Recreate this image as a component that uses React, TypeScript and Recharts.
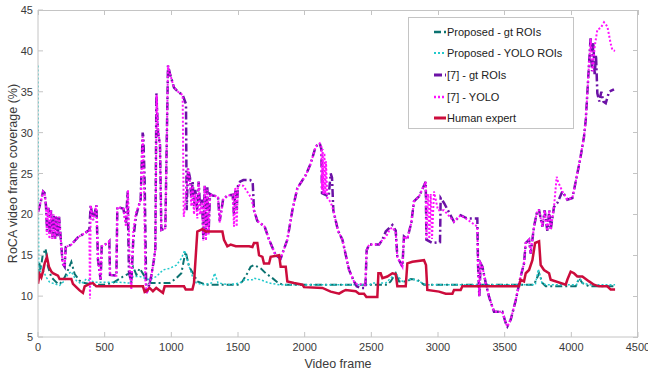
import React from 'react';
import { LineChart, Line, XAxis, YAxis } from 'recharts';

type Pt = [number, number];

// frame, coverage (%)
const proposedGt: Pt[] = [
  [0, 12.5], [8, 14.2], [20, 13.2], [35, 15.0], [57, 15.8], [75, 13.6], [100, 12.3], [125, 11.9],
  [150, 11.5], [165, 11.5], [200, 12.3], [225, 13.2], [250, 14.2], [275, 12.7], [312, 11.9], [350, 11.6],
  [420, 11.4], [490, 11.4], [560, 11.6], [638, 12.4], [688, 12.8], [713, 13.6], [738, 12.6], [763, 13.4],
  [800, 12.4], [830, 11.6], [988, 11.6], [1038, 12.2], [1075, 12.8], [1095, 14.5], [1108, 15.4], [1133, 13.6],
  [1170, 12.6], [1195, 11.8], [1258, 11.4], [1508, 11.4], [1533, 11.8], [1570, 12.8], [1595, 13.6], [1620, 13.8],
  [1670, 13.4], [1708, 12.8], [1758, 12.2], [1795, 11.7], [1833, 11.4], [2620, 11.4], [2645, 11.8], [2683, 12.8],
  [2708, 11.8], [2770, 11.8], [2795, 12.1], [2845, 12.0], [2895, 11.4], [3720, 11.4], [3758, 12.8], [3783, 11.6],
  [3808, 11.2], [4033, 11.2], [4058, 12.2], [4083, 11.6], [4133, 11.2], [4328, 11.2],
];

const proposedYolo: Pt[] = [
  [0, 38.2], [3, 20], [6, 13.5], [14, 12.6], [25, 13.5], [37, 13.2], [62, 12.3], [87, 11.7], [125, 11.5],
  [162, 11.3], [200, 11.9], [225, 12.7], [250, 13.0], [287, 11.9], [325, 11.5], [362, 12.1], [387, 11.9],
  [430, 11.7], [600, 11.7], [688, 11.6], [713, 12.4], [763, 12.4], [838, 12.0], [888, 12.4], [938, 13.2],
  [988, 13.4], [1038, 13.8], [1075, 14.6], [1100, 15.6], [1138, 13.4], [1163, 12.2], [1188, 11.6], [1238, 11.4],
  [1300, 11.6], [1325, 12.8], [1350, 11.6], [1438, 11.4], [1513, 11.6], [1550, 12.0], [1608, 12.0], [1620, 12.2],
  [1670, 12.0], [1733, 11.6], [1808, 11.4], [2483, 11.4], [2520, 11.6], [2608, 11.6], [2683, 12.8], [2733, 11.8],
  [2808, 12.1], [2858, 11.8], [2908, 11.4], [3730, 11.4], [3752, 13.3], [3780, 11.6], [3808, 11.4], [4040, 11.4],
  [4058, 12.4], [4083, 11.6], [4133, 11.4], [4328, 11.4],
];

const refGt: Pt[] = [
  [0, 20.3], [20, 21.5], [38, 22.8], [50, 22.6], [60, 21], [68, 18], [78, 20.8], [88, 17.5], [98, 20.5],
  [108, 17.2], [118, 20], [128, 17], [138, 19.8], [148, 17.3], [158, 19.7], [170, 17.2], [185, 14], [200, 13.6],
  [208, 16.0], [250, 16.3], [300, 17.2], [360, 17.8], [385, 18.1], [395, 21.1], [413, 19.3], [438, 21.1],
  [450, 14.4], [470, 12.0], [478, 16.1], [525, 16.5], [535, 16.7], [540, 12.6], [588, 12.5], [595, 20.9],
  [640, 20.7], [660, 19.0], [672, 22.8], [682, 13], [700, 11.6], [715, 17], [735, 19.8], [755, 21], [770, 21.8],
  [785, 30.0], [790, 29.5], [800, 24], [812, 10.4], [825, 10.8], [850, 12.5], [870, 14.5], [880, 15.8],
  [888, 34.8], [900, 30], [915, 28.5], [925, 18.1], [955, 18.3], [975, 38.2], [990, 37.2], [1020, 35.5],
  [1050, 35], [1085, 34.6], [1110, 33.5], [1115, 20.5], [1125, 25.6], [1140, 24.5], [1150, 22], [1160, 24],
  [1170, 21], [1180, 23], [1195, 20.5], [1205, 24], [1215, 21], [1230, 21.8], [1240, 17], [1250, 23.5],
  [1260, 17.5], [1270, 23.3], [1280, 18], [1290, 22.5], [1310, 22.3], [1350, 22.2], [1363, 19.2], [1388, 21.8],
  [1420, 22.3], [1460, 22.4], [1470, 20], [1480, 23], [1490, 20.5], [1500, 23.5], [1515, 24], [1540, 24.2],
  [1590, 24.2], [1610, 24], [1620, 20.5], [1645, 19.2], [1700, 18.5], [1733, 16.9], [1783, 15.0], [1820, 14.6],
  [1870, 16.9], [1908, 20.5], [1945, 23.2], [2008, 24.8], [2045, 26.2], [2083, 28.3], [2113, 28.7], [2125, 28],
  [2130, 22.6], [2180, 22.2], [2195, 25], [2205, 24.5], [2215, 20.5], [2250, 18], [2283, 16.9], [2333, 13.2],
  [2370, 11.8], [2390, 11.2], [2420, 11.0], [2455, 11.0], [2465, 15.6], [2483, 16.3], [2558, 16.3], [2583, 16.9],
  [2608, 17.9], [2658, 18.7], [2683, 18], [2695, 14.8], [2733, 13.6], [2745, 17.3], [2770, 17.0], [2800, 19],
  [2820, 21.6], [2858, 22.2], [2908, 24.0], [2913, 16.9], [2958, 16.5], [3015, 16.6], [3020, 22.0], [3045, 21.4],
  [3120, 19.1], [3170, 19.9], [3205, 19.6], [3235, 19.5], [3295, 19.5], [3300, 14], [3310, 10], [3320, 14],
  [3333, 13.6], [3358, 11.6], [3383, 9.9], [3420, 8.1], [3483, 8.1], [3508, 6.7], [3520, 6.3], [3545, 7.1],
  [3583, 9.5], [3620, 12.4], [3645, 14.0], [3658, 16.5], [3683, 16.9], [3695, 15.2], [3720, 18.5], [3745, 20.5],
  [3758, 20.5], [3783, 18.5], [3800, 20.5], [3820, 18], [3835, 20.5], [3845, 18.1], [3870, 20.9], [3895, 21.4],
  [3933, 22.8], [3970, 21.8], [4008, 22.0], [4045, 25.0], [4070, 27.1], [4095, 29.5], [4108, 31.5], [4120, 34.8],
  [4133, 38.5], [4145, 41.7], [4155, 37.5], [4165, 41], [4175, 37], [4185, 39.5], [4195, 34.8], [4210, 33.8],
  [4225, 35], [4240, 33.8], [4258, 33.6], [4283, 35.0], [4320, 35.3],
];

const refYolo: Pt[] = [
  [0, 20.3], [20, 21.5], [38, 22.8], [50, 22.6], [60, 21], [66, 17.5], [76, 20.8], [86, 17], [96, 20.5],
  [106, 17], [116, 20], [126, 17], [136, 19.8], [146, 17.3], [158, 19.7], [170, 17.2], [185, 14], [200, 13.6],
  [208, 16.0], [250, 16.3], [300, 17.2], [360, 17.8], [385, 18.1], [390, 9.7], [395, 21.1], [413, 19.3],
  [438, 21.1], [450, 14.4], [470, 12.0], [478, 16.1], [525, 16.5], [535, 16.7], [540, 12.6], [588, 12.5],
  [595, 20.9], [640, 20.7], [660, 18.5], [675, 23], [690, 12.4], [700, 10.8], [715, 18], [735, 20.2],
  [755, 21], [770, 21.8], [785, 29.5], [795, 24], [805, 12], [815, 10.3], [830, 11], [850, 12.5], [870, 14.5],
  [880, 15.8], [890, 34.6], [900, 30.5], [915, 28.5], [925, 18.1], [955, 18.3], [975, 38.2], [990, 37.2],
  [1020, 35.5], [1050, 35], [1085, 34.6], [1093, 19.7], [1110, 22], [1125, 25.6], [1140, 24], [1150, 21],
  [1160, 23.5], [1170, 20], [1180, 22.5], [1195, 19.5], [1205, 24], [1215, 20], [1230, 21.5], [1240, 16.8],
  [1250, 23.5], [1260, 16.8], [1270, 23], [1280, 17.5], [1290, 22.5], [1310, 22.3], [1350, 22.2], [1363, 19],
  [1388, 21.8], [1420, 22.3], [1460, 22.4], [1470, 18.5], [1480, 23.3], [1490, 18.5], [1500, 23.5],
  [1515, 23.6], [1540, 23.5], [1600, 22], [1620, 20.5], [1645, 19.2], [1700, 18.5], [1733, 16.9], [1783, 15.0],
  [1820, 14.6], [1870, 16.9], [1908, 20.5], [1945, 23.2], [2008, 24.8], [2045, 26.2], [2083, 28.3],
  [2113, 28.7], [2125, 28.3], [2130, 23], [2135, 28], [2140, 22.5], [2148, 27.5], [2155, 22.5], [2160, 26.5],
  [2170, 22], [2180, 21.8], [2195, 21.5], [2215, 20.5], [2250, 18], [2283, 16.9], [2333, 13.2], [2370, 11.8],
  [2390, 11.5], [2455, 11.4], [2465, 15.6], [2483, 16.3], [2558, 16.3], [2583, 16.9], [2608, 17.2],
  [2640, 18.2], [2658, 18.4], [2683, 17.8], [2695, 14.8], [2733, 13.6], [2745, 17.3], [2770, 17.0],
  [2800, 19], [2820, 21.6], [2858, 22.2], [2908, 24.0], [2913, 17], [2925, 22.5], [2935, 17], [2945, 22.5],
  [2955, 17], [2970, 22.8], [3000, 20.5], [3045, 20.5], [3120, 19.1], [3170, 19.9], [3208, 19.5], [3295, 18.5],
  [3300, 14], [3310, 10], [3320, 14], [3333, 13.6], [3358, 11.6], [3383, 9.9], [3420, 8.1], [3483, 8.1],
  [3508, 6.7], [3520, 6.3], [3545, 7.1], [3583, 9.5], [3620, 12.4], [3645, 14.0], [3658, 16.5], [3683, 16.9],
  [3695, 15.2], [3720, 18.5], [3745, 20.5], [3758, 20.5], [3783, 18.5], [3800, 20.5], [3820, 18], [3835, 20.5],
  [3845, 18.1], [3870, 20.9], [3890, 24.6], [3900, 24], [3933, 22.8], [3970, 21.8], [4008, 22.0], [4045, 25.0],
  [4070, 27.1], [4095, 29.5], [4108, 31.5], [4120, 34.8], [4133, 38.5], [4145, 41.5], [4160, 37.5],
  [4175, 40.5], [4195, 42.6], [4220, 42.8], [4245, 43.5], [4270, 43], [4295, 40.9], [4308, 40.1], [4328, 40.0],
];

const humanExpert: Pt[] = [
  [0, 11.5], [12, 12.7], [25, 12.3], [37, 13.0], [50, 14.0], [67, 14.8], [82, 13.6], [100, 13.0], [112, 12.8],
  [150, 12.5], [162, 12.1], [250, 12.1], [262, 11.5], [287, 11.1], [312, 10.7], [337, 10.4], [350, 11.2],
  [387, 11.5], [412, 11.6], [437, 11.2], [600, 11.2], [787, 11.2], [800, 10.5], [812, 10.6], [837, 11.0],
  [862, 10.6], [887, 11.0], [920, 10.6], [937, 10.4], [950, 11.2], [1095, 11.2], [1108, 10.8], [1158, 10.8],
  [1170, 11.6], [1195, 17.9], [1233, 18.2], [1258, 17.9], [1383, 17.9], [1395, 16.9], [1420, 16.1],
  [1445, 16.3], [1483, 16.1], [1533, 16.1], [1583, 16.1], [1608, 16.0], [1620, 16.5], [1645, 16.5],
  [1658, 15.0], [1683, 14.8], [1695, 14.0], [1733, 14.0], [1745, 14.8], [1808, 15.0], [1820, 13.6],
  [1858, 13.6], [1870, 11.8], [1920, 11.6], [1983, 11.4], [1995, 11.1], [2133, 11.0], [2195, 10.55],
  [2258, 10.3], [2283, 10.55], [2308, 10.75], [2383, 10.6], [2408, 10.3], [2445, 10.3], [2463, 9.9],
  [2545, 9.9], [2553, 12.8], [2570, 12.8], [2583, 12.2], [2620, 12.4], [2658, 12.8], [2683, 12.7],
  [2695, 11.2], [2758, 11.2], [2770, 14.0], [2808, 14.2], [2895, 14.4], [2910, 13.8], [2920, 10.75],
  [3008, 10.55], [3058, 10.3], [3108, 10.3], [3120, 10.75], [3170, 10.75], [3183, 11.2], [3608, 11.2],
  [3620, 12.0], [3645, 11.8], [3658, 12.8], [3683, 13.2], [3708, 14.4], [3728, 16.5], [3758, 16.7],
  [3770, 13.8], [3795, 13.2], [3833, 12.8], [3845, 12.0], [3958, 11.4], [3970, 12.0], [3995, 13.0],
  [4020, 12.8], [4045, 12.4], [4083, 12.4], [4133, 11.8], [4170, 11.4], [4208, 11.2], [4270, 11.2],
  [4295, 10.8], [4328, 10.8],
];

const xTicks = [0, 500, 1000, 1500, 2000, 2500, 3000, 3500, 4000, 4500];
const yTicks = [5, 10, 15, 20, 25, 30, 35, 40, 45];
const X_MAX = 4500;
const Y_MIN = 5;
const Y_MAX = 45;

const series = [
  { name: 'Proposed - gt ROIs', data: proposedGt, color: '#0b7270', dash: '7 3 2 3', width: 2 },
  { name: 'Proposed - YOLO ROIs', data: proposedYolo, color: '#22c9cc', dash: '2 2', width: 1.5 },
  { name: '[7] - gt ROIs', data: refGt, color: '#6c12a6', dash: '8 3 2 3', width: 2.5 },
  { name: '[7] - YOLO', data: refYolo, color: '#ff10ff', dash: '2 2', width: 2 },
  { name: 'Human expert', data: humanExpert, color: '#cc0c3c', dash: undefined, width: 2.5 },
];

const AXIS = '#c4c4c4';
const LABEL = '#3a3a3a';
const FONT = '"Liberation Sans", Arial, sans-serif';

// plot box (matches chart margins + axis sizes below)
const PLOT = { left: 38, top: 10, right: 638, bottom: 337 };

const toPts = (a: Pt[]) => a.map(([f, v]) => ({ f, v }));

const BottomTick = (p: any) => (
  <g>
    <line x1={p.x} y1={p.y} x2={p.x} y2={p.y - 5} stroke={AXIS} />
    <text x={p.x} y={p.y + 14} textAnchor="middle" fontSize={11} fill={LABEL} fontFamily={FONT}>
      {p.payload.value}
    </text>
  </g>
);
const LeftTick = (p: any) => (
  <g>
    <line x1={p.x} y1={p.y} x2={p.x + 5} y2={p.y} stroke={AXIS} />
    <text x={p.x - 5} y={p.y + 4} textAnchor="end" fontSize={11} fill={LABEL} fontFamily={FONT}>
      {p.payload.value}
    </text>
  </g>
);

// top and right edges of the MATLAB-style box, with inward ticks
const BoxFrame = () => {
  const w = PLOT.right - PLOT.left;
  const h = PLOT.bottom - PLOT.top;
  return (
    <svg width={648} height={372} style={{ position: 'absolute', left: 0, top: 0, pointerEvents: 'none' }}>
      <g stroke={AXIS} strokeWidth={1} shapeRendering="crispEdges">
        <line x1={PLOT.left} y1={PLOT.top + 0.5} x2={PLOT.right} y2={PLOT.top + 0.5} />
        <line x1={PLOT.right - 0.5} y1={PLOT.top} x2={PLOT.right - 0.5} y2={PLOT.bottom} />
        {xTicks.map((t) => {
          const x = PLOT.left + (t / X_MAX) * w;
          return <line key={'x' + t} x1={x} y1={PLOT.top} x2={x} y2={PLOT.top + 5} />;
        })}
        {yTicks.map((t) => {
          const y = PLOT.bottom - ((t - Y_MIN) / (Y_MAX - Y_MIN)) * h;
          return <line key={'y' + t} x1={PLOT.right} y1={y} x2={PLOT.right - 5} y2={y} />;
        })}
      </g>
    </svg>
  );
};

const LegendBox = () => (
  <div
    style={{
      position: 'absolute', left: 408, top: 17, width: 166, height: 112, boxSizing: 'border-box',
      border: '1px solid #c4c4c4', background: '#fff', fontFamily: FONT, fontSize: 11, color: '#222',
      paddingTop: 3,
    }}
  >
    {series.map((s) => (
      <div key={s.name} style={{ display: 'flex', alignItems: 'center', height: 21.6 }}>
        <svg width={38} height={8} style={{ display: 'block' }}>
          <line x1={25} y1={4} x2={37} y2={4} stroke={s.color} strokeWidth={s.width + 0.5} strokeDasharray={s.dash} />
        </svg>
        <span>{s.name}</span>
      </div>
    ))}
  </div>
);

export default function App() {
  return (
    <div style={{ position: 'absolute', left: 0, top: 0, width: 648, height: 372, background: '#fff' }}>
      <LineChart width={648} height={372} margin={{ top: 10, right: 10, bottom: 0, left: 0 }}>
        <XAxis
          dataKey="f" type="number" domain={[0, X_MAX]} ticks={xTicks} allowDataOverflow
          height={35} stroke={AXIS} tickLine={false} tickSize={0} tickMargin={0} tick={BottomTick}
          interval={0}
          label={{ value: 'Video frame', position: 'insideBottom', offset: 4, fill: LABEL, fontSize: 12.5, fontFamily: FONT }}
        />
        <YAxis
          type="number" domain={[Y_MIN, Y_MAX]} ticks={yTicks} allowDataOverflow width={38} stroke={AXIS}
          tickLine={false} tickSize={0} tickMargin={0} tick={LeftTick} interval={0}
          label={{
            value: 'RoCA video frame coverage (%)', angle: -90, position: 'insideLeft', offset: 13,
            fill: LABEL, fontSize: 12.5, fontFamily: FONT, style: { textAnchor: 'middle' },
          }}
        />
        {series.map((s) => (
          <Line
            key={s.name} data={toPts(s.data)} dataKey="v" name={s.name} type="linear" stroke={s.color}
            strokeWidth={s.width} strokeDasharray={s.dash} dot={false} activeDot={false}
            isAnimationActive={false}
          />
        ))}
      </LineChart>
      <BoxFrame />
      <LegendBox />
    </div>
  );
}
